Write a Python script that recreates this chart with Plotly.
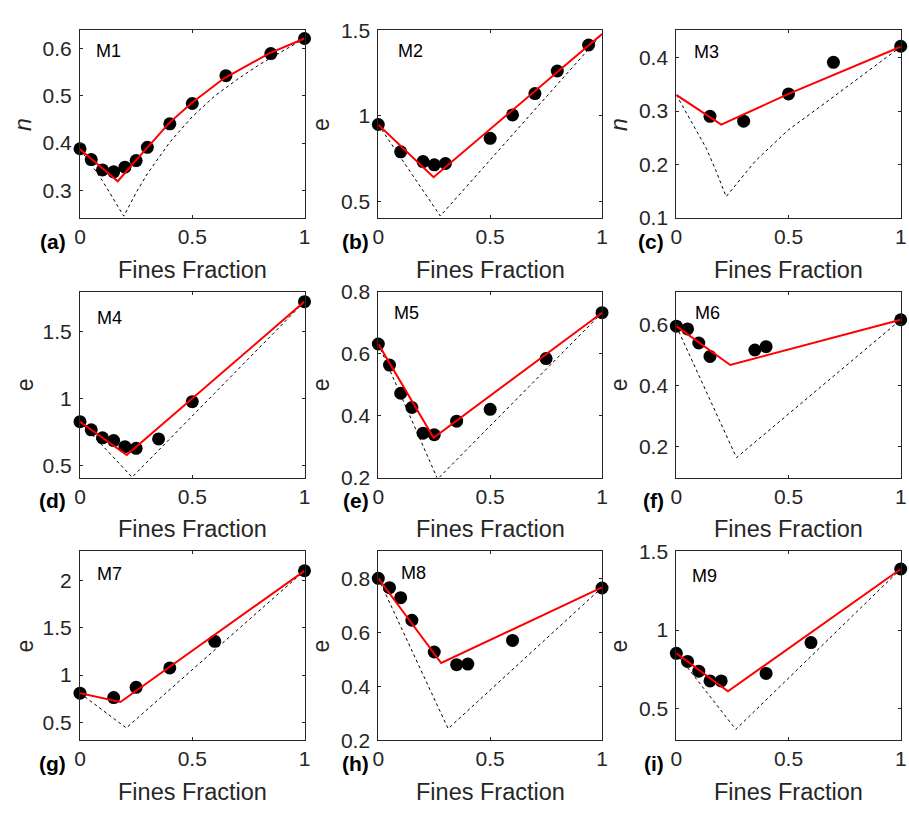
import plotly.graph_objects as go

W, H = 909, 818
FONT = "Liberation Sans, Arial, Helvetica, sans-serif"
AXC = "#262626"

# ---------------- data ----------------
labels = ["M1", "M2", "M3", "M4", "M5", "M6", "M7", "M8", "M9"]
panel_tags = ["(a)", "(b)", "(c)", "(d)", "(e)", "(f)", "(g)", "(h)", "(i)"]
y_titles = ["<i>n</i>", "e", "<i>n</i>", "e", "e", "e", "e", "e", "e"]
x_title = "Fines Fraction"
x_ticks = [0, 0.5, 1]

# M1 (porosity n)
m1_x = [0, 0.05, 0.10, 0.15, 0.20, 0.25, 0.30, 0.40, 0.50, 0.65, 0.85, 1.0]
m1_y = [0.388, 0.365, 0.343, 0.339, 0.349, 0.363, 0.391, 0.441, 0.484, 0.543, 0.590, 0.622]
m1_red_x = [0, 0.168, 0.25, 0.30, 0.40, 0.50, 0.64, 0.845, 1.0]
m1_red_y = [0.387, 0.319, 0.364, 0.391, 0.444, 0.486, 0.537, 0.591, 0.622]
m1_dash_x = [0, 0.05, 0.10, 0.15, 0.195, 0.25, 0.30, 0.40, 0.50, 0.60, 0.70, 0.80, 0.90, 1.0]
m1_dash_y = [0.387, 0.355, 0.320, 0.282, 0.245, 0.295, 0.335, 0.402, 0.456, 0.500, 0.535, 0.567, 0.595, 0.622]

# M2 (void ratio e)
m2_x = [0, 0.10, 0.20, 0.25, 0.30, 0.50, 0.60, 0.70, 0.80, 0.94]
m2_y = [0.950, 0.790, 0.733, 0.714, 0.722, 0.869, 1.006, 1.131, 1.263, 1.415]
m2_red_x = [0, 0.247, 1.0]
m2_red_y = [0.949, 0.642, 1.479]
m2_dash_x = [0, 0.277, 1.0]
m2_dash_y = [0.949, 0.415, 1.479]

# M3 (porosity n)
m3_x = [0.15, 0.30, 0.50, 0.70, 1.0]
m3_y = [0.290, 0.281, 0.332, 0.391, 0.421]
m3_red_x = [0, 0.20, 0.50, 1.0]
m3_red_y = [0.330, 0.2745, 0.332, 0.420]
m3_dash_x = [0, 0.074, 0.134, 0.176, 0.222, 0.353, 0.50, 0.647, 0.809, 1.0]
m3_dash_y = [0.330, 0.276, 0.230, 0.189, 0.140, 0.207, 0.265, 0.310, 0.360, 0.420]

# M4
m4_x = [0, 0.05, 0.10, 0.15, 0.20, 0.25, 0.35, 0.50, 1.0]
m4_y = [0.826, 0.765, 0.705, 0.685, 0.639, 0.627, 0.697, 0.976, 1.725]
m4_red_x = [0, 0.208, 1.0]
m4_red_y = [0.826, 0.576, 1.725]
m4_dash_x = [0, 0.232, 1.0]
m4_dash_y = [0.826, 0.410, 1.725]

# M5
m5_x = [0, 0.05, 0.10, 0.15, 0.20, 0.25, 0.35, 0.50, 0.75, 1.0]
m5_y = [0.631, 0.563, 0.472, 0.426, 0.343, 0.338, 0.382, 0.420, 0.584, 0.732]
m5_red_x = [0, 0.247, 1.0]
m5_red_y = [0.631, 0.328, 0.732]
m5_dash_x = [0, 0.265, 1.0]
m5_dash_y = [0.631, 0.195, 0.732]

# M6
m6_x = [0, 0.05, 0.10, 0.15, 0.35, 0.40, 1.0]
m6_y = [0.595, 0.586, 0.540, 0.496, 0.517, 0.528, 0.616]
m6_red_x = [0, 0.24, 1.0]
m6_red_y = [0.595, 0.468, 0.616]
m6_dash_x = [0, 0.268, 1.0]
m6_dash_y = [0.595, 0.165, 0.616]

# M7
m7_x = [0, 0.15, 0.25, 0.40, 0.60, 1.0]
m7_y = [0.808, 0.762, 0.870, 1.076, 1.357, 2.105]
m7_red_x = [0, 0.18, 1.0]
m7_red_y = [0.808, 0.715, 2.105]
m7_dash_x = [0, 0.206, 1.0]
m7_dash_y = [0.808, 0.440, 2.105]

# M8
m8_x = [0, 0.05, 0.10, 0.15, 0.25, 0.35, 0.40, 0.60, 1.0]
m8_y = [0.802, 0.767, 0.730, 0.646, 0.528, 0.481, 0.483, 0.571, 0.766]
m8_red_x = [0, 0.281, 1.0]
m8_red_y = [0.802, 0.487, 0.768]
m8_dash_x = [0, 0.312, 1.0]
m8_dash_y = [0.802, 0.243, 0.768]

# M9
m9_x = [0, 0.05, 0.10, 0.15, 0.20, 0.40, 0.60, 1.0]
m9_y = [0.852, 0.800, 0.738, 0.676, 0.676, 0.724, 0.920, 1.388]
m9_red_x = [0, 0.23, 1.0]
m9_red_y = [0.852, 0.610, 1.388]
m9_dash_x = [0, 0.265, 1.0]
m9_dash_y = [0.852, 0.368, 1.388]

y_ranges = [[0.241, 0.639], [0.403, 1.5], [0.1, 0.4505],
            [0.408, 1.80], [0.2, 0.8], [0.1, 0.708],
            [0.31, 2.31], [0.2, 0.902], [0.299, 1.5]]
y_ticks = [[0.3, 0.4, 0.5, 0.6], [0.5, 1, 1.5], [0.1, 0.2, 0.3, 0.4],
           [0.5, 1, 1.5], [0.2, 0.4, 0.6, 0.8], [0.2, 0.4, 0.6],
           [0.5, 1, 1.5, 2], [0.2, 0.4, 0.6, 0.8], [0.5, 1, 1.5]]

points = [(m1_x, m1_y), (m2_x, m2_y), (m3_x, m3_y), (m4_x, m4_y), (m5_x, m5_y),
          (m6_x, m6_y), (m7_x, m7_y), (m8_x, m8_y), (m9_x, m9_y)]
reds = [(m1_red_x, m1_red_y), (m2_red_x, m2_red_y), (m3_red_x, m3_red_y),
        (m4_red_x, m4_red_y), (m5_red_x, m5_red_y), (m6_red_x, m6_red_y),
        (m7_red_x, m7_red_y), (m8_red_x, m8_red_y), (m9_red_x, m9_red_y)]
dashes = [(m1_dash_x, m1_dash_y), (m2_dash_x, m2_dash_y), (m3_dash_x, m3_dash_y),
          (m4_dash_x, m4_dash_y), (m5_dash_x, m5_dash_y), (m6_dash_x, m6_dash_y),
          (m7_dash_x, m7_dash_y), (m8_dash_x, m8_dash_y), (m9_dash_x, m9_dash_y)]

# ---------------- layout geometry (pixels) ----------------
col_px = [(75, 302.5), (377.3, 604), (679.3, 906.7)]
row_px = [(19, 212), (287.7, 479), (555, 749.3)]
ytitle_cx = [[17, 19, 19], [319, 319, 319], [621, 621, 621]]  # [col][row]
tag_right = [63, 370, 669]
m_pos = [(89, 40.5), (395, 40), (695, 41.5),
         (90, 315), (391, 310), (696, 310),
         (90, 578), (398, 577), (693, 580)]


def px(x):
    return x / W


def py(y):
    return 1 - y / H


fig = go.Figure()
layout = dict(width=W, height=H, margin=dict(l=0, r=0, t=0, b=0),
              autosize=False, showlegend=False,
              paper_bgcolor="white", plot_bgcolor="white",
              font=dict(family=FONT, color=AXC))
annotations = []

for i in range(9):
    r, c = divmod(i, 3)
    xa = "x" if i == 0 else f"x{i + 1}"
    ya = "y" if i == 0 else f"y{i + 1}"
    xk = "xaxis" if i == 0 else f"xaxis{i + 1}"
    yk = "yaxis" if i == 0 else f"yaxis{i + 1}"

    dx, dy = dashes[i]
    fig.add_trace(go.Scatter(x=dx, y=dy, mode="lines", xaxis=xa, yaxis=ya,
                             line=dict(color="black", width=1, dash="3px,3px"),
                             hoverinfo="skip"))
    pxs, pys = points[i]
    fig.add_trace(go.Scatter(x=pxs, y=pys, mode="markers", xaxis=xa, yaxis=ya,
                             marker=dict(color="black", size=13, line=dict(width=0)),
                             cliponaxis=False))
    rx, ry = reds[i]
    fig.add_trace(go.Scatter(x=rx, y=ry, mode="lines", xaxis=xa, yaxis=ya,
                             line=dict(color="#ff0000", width=2)))

    common = dict(ticks="inside", ticklen=3, tickwidth=1, tickcolor=AXC,
                  showline=True, linecolor=AXC, linewidth=1, mirror="ticks",
                  showgrid=False, zeroline=False,
                  tickfont=dict(family=FONT, size=21, color=AXC))
    x0, x1 = col_px[c]
    y0, y1 = row_px[r]
    layout[xk] = dict(domain=[px(x0), px(x1)], range=[0, 1], anchor=ya,
                      tickvals=x_ticks, ticktext=["0", "0.5", "1"], **common)
    layout[yk] = dict(domain=[py(y1), py(y0)], range=y_ranges[i], anchor=xa,
                      tickvals=y_ticks[i], ticklabelstandoff=3, **common)

    # x title
    annotations.append(dict(text=x_title, xref="paper", yref="paper",
                            x=px((x0 + x1) / 2), y=py(y1 + 53),
                            xanchor="center", yanchor="middle", showarrow=False,
                            font=dict(family=FONT, size=23.5, color=AXC)))
    # y title
    annotations.append(dict(text=y_titles[i], xref="paper", yref="paper",
                            x=px(ytitle_cx[c][r]), y=py((y0 + y1) / 2),
                            xanchor="center", yanchor="middle", showarrow=False,
                            textangle=-90,
                            font=dict(family=FONT, size=23, color=AXC)))
    # panel tag
    annotations.append(dict(text="<b>" + panel_tags[i] + "</b>", xref="paper", yref="paper",
                            x=px(tag_right[c]), y=py(y1 + 24),
                            xanchor="right", yanchor="middle", showarrow=False,
                            font=dict(family=FONT, size=21, color="black")))
    # model label
    mx, my = m_pos[i]
    annotations.append(dict(text=labels[i], xref="paper", yref="paper",
                            x=px(mx), y=py(my),
                            xanchor="left", yanchor="middle", showarrow=False,
                            font=dict(family=FONT, size=18, color="black")))

layout["annotations"] = annotations
fig.update_layout(**layout)
fig.write_html("out.html")
